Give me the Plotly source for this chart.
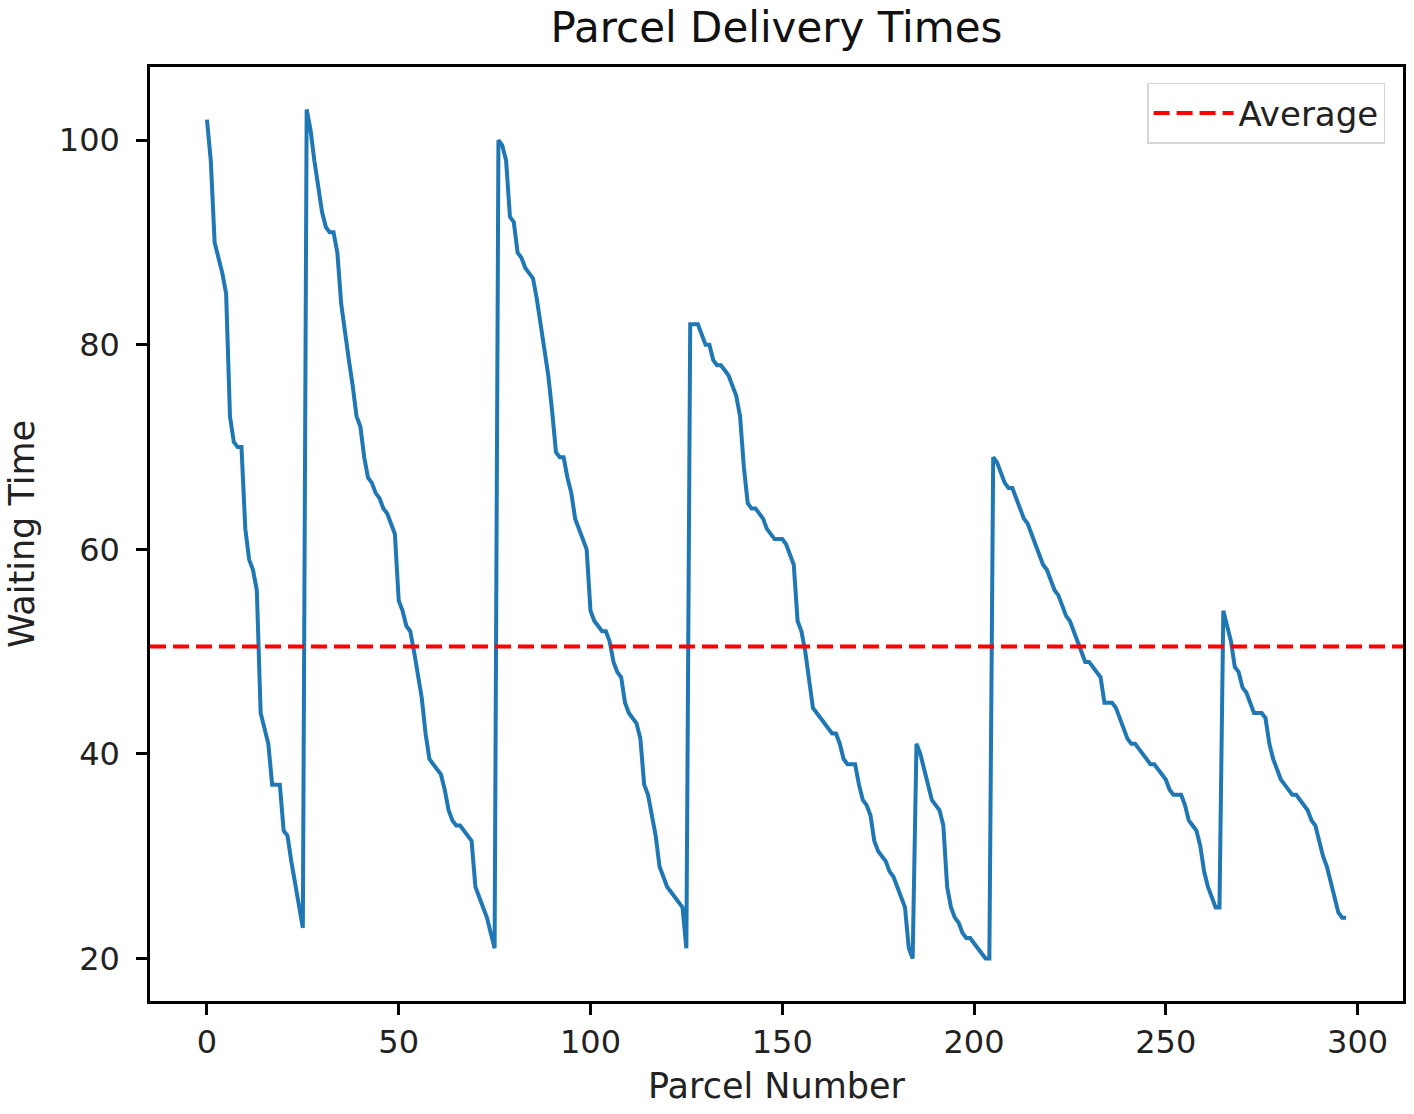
import plotly.graph_objects as go

# ---- data ----
seg1 = [102, 98, 90, 88.5, 87, 85, 73, 70.5, 70, 70, 62, 59, 58, 56, 44, 42.5, 41, 37, 37, 37,
        32.5, 32, 29.5, 27.5, 25.5, 23]
seg2 = [103, 101, 98, 95.5, 93, 91.5, 91, 91, 89, 84, 81, 78.5, 76, 73, 72,
        69, 67, 66.5, 65.5, 65, 64, 63.5, 62.5, 61.5, 55, 54, 52.5, 52, 50, 47.5,
        45.5, 42, 39.5, 39, 38.5, 38, 36.5, 34.5, 33.5, 33, 33, 32.5, 32, 31.5, 27,
        26, 25, 24, 22.5, 21]
seg3 = [100, 99.5, 98, 92.5, 92, 89, 88.5, 87.5, 87, 86.5, 84.5, 82, 80, 77, 73.5,
        69.5, 69, 69, 67, 65.5, 63, 62, 61, 60, 54, 53, 52.5, 52, 52, 51,
        49, 48, 47.5, 45, 44, 43.5, 43, 41.5, 37, 36, 34, 32, 29, 28, 27,
        26.5, 26, 25.5, 25, 21]
seg4 = [82, 82, 82, 81, 80, 80, 78.5, 78, 78, 77.5, 77, 76, 75, 73, 68,
        64.5, 64, 64, 63.5, 63, 62, 61.5, 61, 61, 61, 60.5, 59.5, 58.5, 53, 52,
        50, 47, 44.5, 44, 43.5, 43, 42.5, 42, 42, 41, 39.5, 39, 39, 39, 37,
        35.5, 35, 34, 31.5, 30.5, 30, 29.5, 28.5, 28, 27, 26, 25, 21, 20]
seg5 = [41, 40, 38.5, 37, 35.5, 35, 34.5, 33, 27, 25, 24, 23.5, 22.5, 22, 22,
        21.5, 21, 20.5, 20, 20]
seg6 = [69, 68.5, 67.5, 66.5, 66, 66, 65, 64, 63, 62.5, 61.5, 60.5, 59.5, 58.5, 58,
        57, 56, 55.5, 54.5, 53.5, 53, 52, 51, 50, 49, 49, 48.5, 48, 47.5, 45,
        45, 45, 44.5, 43.5, 42.5, 41.5, 41, 41, 40.5, 40, 39.5, 39, 39, 38.5, 38,
        37.5, 36.5, 36, 36, 36, 35, 33.5, 33, 32.5, 31, 28.5, 27, 26, 25, 25]
seg7 = [54, 52.5, 51, 48.5, 48, 46.5, 46, 45, 44, 44, 44, 43.5, 41, 39.5, 38.5,
        37.5, 37, 36.5, 36, 36, 35.5, 35, 34.5, 33.5, 33, 31.5, 30, 29, 27.5, 26,
        24.5, 24, 24]

waiting_times = seg1 + seg2 + seg3 + seg4 + seg5 + seg6 + seg7
parcel_numbers = list(range(len(waiting_times)))
average_value = 50.5

x_ticks = [0, 50, 100, 150, 200, 250, 300]
y_ticks = [20, 40, 60, 80, 100]

# ---- axis ranges with matplotlib-like 5% margins ----
xmin, xmax = min(parcel_numbers), max(parcel_numbers)
ymin, ymax = min(waiting_times), max(waiting_times)
xpad = 0.05 * (xmax - xmin)
ypad = 0.05 * (ymax - ymin)
x_range = [xmin - xpad, xmax + xpad]
y_range = [ymin - ypad, ymax + ypad]

FONT = "DejaVu Sans"

fig = go.Figure()
fig.add_trace(go.Scatter(
    x=parcel_numbers, y=waiting_times, mode="lines",
    line=dict(color="#1f77b4", width=4), showlegend=False,
))
fig.add_trace(go.Scatter(
    x=x_range, y=[average_value, average_value], mode="lines",
    name="Average", line=dict(color="#ff0000", width=4, dash="16px,7px"),
))

axis_common = dict(
    showgrid=False, zeroline=False, showline=True, mirror=True,
    linecolor="black", linewidth=2.5, ticks="outside", ticklen=11,
    tickwidth=2.5, tickcolor="black",
    tickfont=dict(family=FONT, size=32, color="#222222"),
)

fig.update_layout(
    width=1414, height=1114, autosize=False,
    margin=dict(l=150, r=8, t=67, b=113),
    paper_bgcolor="white", plot_bgcolor="white",
    title=dict(text="Parcel Delivery Times", x=0.5, xref="paper", xanchor="center",
               y=1 - 27 / 1114, yref="container", yanchor="middle",
               font=dict(family=FONT, size=42, color="#111111")),
    xaxis=dict(range=x_range, tickvals=x_ticks,
               title=dict(text="Parcel Number", standoff=14,
                          font=dict(family=FONT, size=35, color="#222222")),
               **axis_common),
    yaxis=dict(range=y_range, tickvals=y_ticks, ticklabelstandoff=10,
               title=dict(text="Waiting Time", standoff=14,
                          font=dict(family=FONT, size=35, color="#222222")),
               **axis_common),
    legend=dict(x=0.9857, y=0.983, xanchor="right", yanchor="top",
                bgcolor="white", bordercolor="#d5d5d5", borderwidth=1.5,
                itemwidth=80,
                font=dict(family=FONT, size=34, color="#222222")),
)

fig.write_html("out.html")
